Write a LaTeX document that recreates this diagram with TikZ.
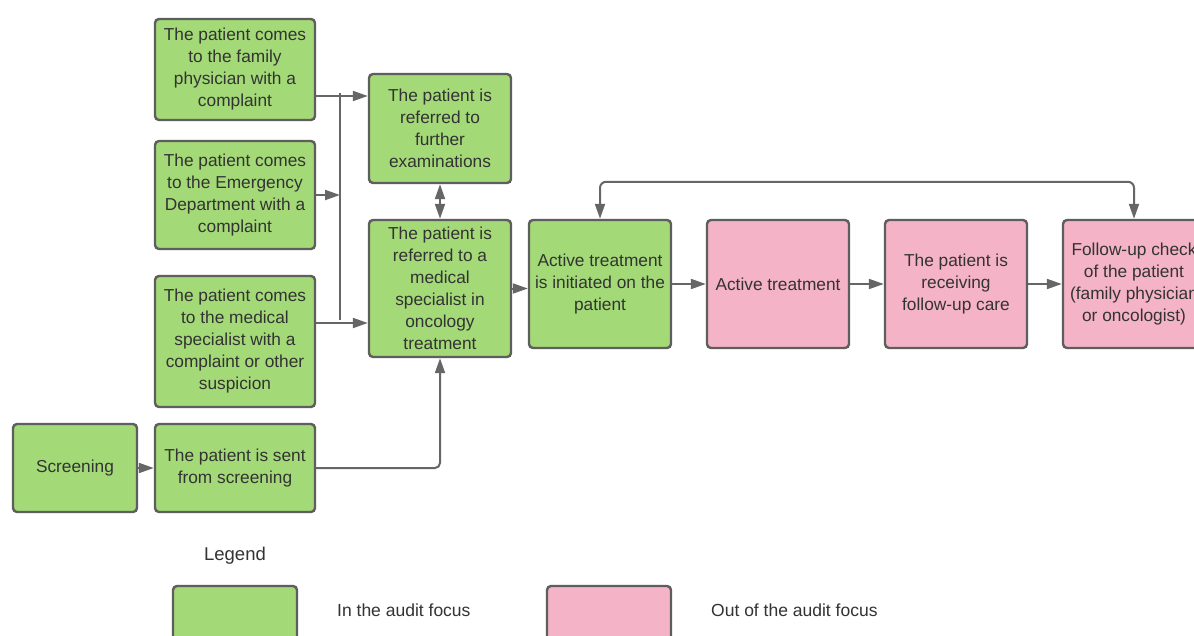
\documentclass[tikz,border=0pt]{standalone}
\usepackage{fontspec}
\setmainfont{Liberation Sans}
\usetikzlibrary{arrows.meta}
\definecolor{gfill}{HTML}{A3D977}
\definecolor{pfill}{HTML}{F4B3C7}
\definecolor{bord}{HTML}{5E5E5E}
\definecolor{lin}{HTML}{666666}
\definecolor{txt}{HTML}{333333}
\tikzset{
  box/.style={draw=bord, line width=2.4pt, rounded corners=4pt, inner sep=0pt,
    align=center, text=txt, font=\fontsize{17.3}{22}\selectfont},
  gbox/.style={box, fill=gfill},
  pbox/.style={box, fill=pfill},
  arr/.style={draw=lin, line width=2pt, -{Triangle[length=15pt,width=10pt]}},
  dbl/.style={draw=lin, line width=2pt, {Triangle[length=15pt,width=10pt]}-{Triangle[length=15pt,width=10pt]}},
  plain/.style={draw=lin, line width=2pt},
  lbl/.style={text=txt, inner sep=0pt, font=\fontsize{17.5}{21}\selectfont}
}
\begin{document}
\begin{tikzpicture}[x=1pt,y=-1pt]
\useasboundingbox (0,0) rectangle (1194,635);
\clip (0,0) rectangle (1194,635);
\fill[white] (0,0) rectangle (1194,635);

% left column
\node[gbox, minimum width=160pt, minimum height=101pt] (a1) at (235,69.5)
  {The patient comes\\to the family\\physician with a\\complaint};
\node[gbox, minimum width=160pt, minimum height=108pt] (a2) at (235,195)
  {The patient comes\\to the Emergency\\Department with a\\complaint};
\node[gbox, minimum width=160pt, minimum height=131pt] (a3) at (235,341.5)
  {The patient comes\\to the medical\\specialist with a\\complaint or other\\suspicion};
\node[gbox, minimum width=124pt, minimum height=88pt] (scr) at (75,468) {Screening};
\node[gbox, minimum width=160pt, minimum height=88pt] (sent) at (235,468)
  {The patient is sent\\from screening};

% middle column
\node[gbox, minimum width=142pt, minimum height=109pt] (fur) at (440,128.5)
  {The patient is\\referred to\\further\\examinations};
\node[gbox, minimum width=142pt, minimum height=137pt] (ref) at (440,288.5)
  {The patient is\\referred to a\\medical\\specialist in\\oncology\\treatment};

% right row
\node[gbox, minimum width=142pt, minimum height=128pt] (init) at (600,284)
  {Active treatment\\is initiated on the\\patient};
\node[pbox, minimum width=142pt, minimum height=128pt] (act) at (778,284)
  {Active treatment};
\node[pbox, minimum width=142pt, minimum height=128pt] (rec) at (956,284)
  {The patient is\\receiving\\follow-up care};
\node[pbox, minimum width=142pt, minimum height=128pt] (fol) at (1134,284)
  {Follow-up check\\of the patient\\(family physician\\or oncologist)};

% bus
\coordinate (bt) at (340,93);
\coordinate (bb) at (340,320);
\coordinate (bm) at (340,195);
\draw[plain] (bt) -- (bb);

% connectors
\draw[arr] (a1.east |- 0,96) -- (fur.west |- 0,96);
\draw[arr] (a2.east) -- (bm);
\draw[arr] (a3.east |- 0,323) -- (ref.west |- 0,323);
\draw[arr] (scr.east) -- (sent.west);
\draw[arr, rounded corners=5pt] (sent.east) -| (ref.south);
\draw[dbl] (fur.south) -- (ref.north);
\draw[arr] (ref.east) -- (init.west |- ref.east);
\draw[arr] (init.east) -- (act.west);
\draw[arr] (act.east) -- (rec.west);
\draw[arr] (rec.east) -- (fol.west);
\draw[dbl, rounded corners=6pt] (init.north) -- ++(0,-37) -| (fol.north);

% legend
\node[lbl, font=\fontsize{18.5}{22}\selectfont] (leg) at (235,556) {Legend};
\node[gbox, minimum width=124pt, minimum height=66pt] (lg) at (235,619) {};
\node[lbl, anchor=west] (lgt) at (337,610) {In the audit focus};
\node[pbox, minimum width=124pt, minimum height=66pt] (lp) at (609,619) {};
\node[lbl, anchor=west] (lpt) at (711,610) {Out of the audit focus};
\end{tikzpicture}
\end{document}
